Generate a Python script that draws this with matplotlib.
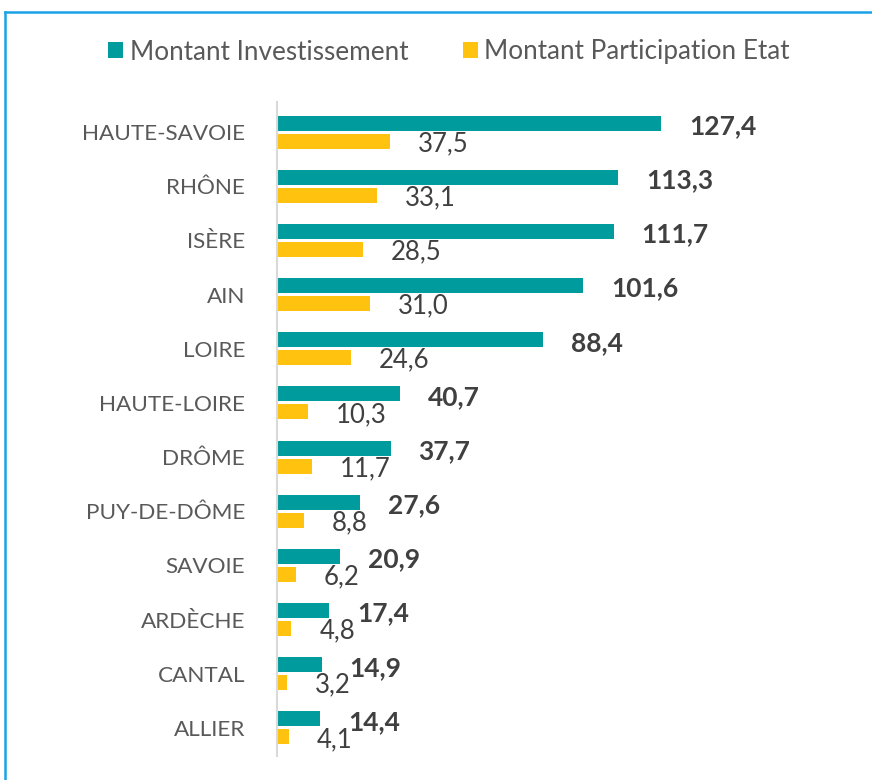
import matplotlib
matplotlib.use("Agg")
import matplotlib.pyplot as plt
from matplotlib.lines import Line2D
import numpy as np

categories = ["HAUTE-SAVOIE", "RHÔNE", "ISÈRE", "AIN", "LOIRE", "HAUTE-LOIRE",
              "DRÔME", "PUY-DE-DÔME", "SAVOIE", "ARDÈCHE", "CANTAL", "ALLIER"]
investissement = [127.4, 113.3, 111.7, 101.6, 88.4, 40.7, 37.7, 27.6, 20.9, 17.4, 14.9, 14.4]
participation = [37.5, 33.1, 28.5, 31.0, 24.6, 10.3, 11.7, 8.8, 6.2, 4.8, 3.2, 4.1]
series_names = ["Montant Investissement", "Montant Participation Etat"]

TEAL = "#009B9C"
YELLOW = "#FFC20E"
TXT = "#404040"
CAT = "#595959"

plt.rcParams['font.family'] = ['Lato', 'DejaVu Sans']

W, H = 872, 780
fig = plt.figure(figsize=(W / 100, H / 100), dpi=100)
fig.patch.set_facecolor("white")

# border (left and top visible)
fig.add_artist(Line2D([4.5 / W, 4.5 / W], [0, 1 - 11.5 / H], transform=fig.transFigure,
                      color="#1AA3E6", lw=1.8))
fig.add_artist(Line2D([4.5 / W, 1.0], [1 - 11.5 / H, 1 - 11.5 / H], transform=fig.transFigure,
                      color="#1AA3E6", lw=1.8))

ax_left = 277 / W
ax_right = 866 / W
ax_top = 1 - 102 / H
ax_bottom = 1 - 756 / H
ax = fig.add_axes([ax_left, ax_bottom, ax_right - ax_left, ax_top - ax_bottom])

y = np.arange(len(categories))
bh = 0.277
off = 0.166
ax.barh(y - off, investissement, height=bh, color=TEAL, label=series_names[0])
ax.barh(y + off, participation, height=bh, color=YELLOW, label=series_names[1])

px_per_unit = 3.014
ax.set_xlim(0, (866 - 277) / px_per_unit)
ax.set_ylim(len(categories) - 1 + 0.52, -0.555)

for yi, v in zip(y, investissement):
    ax.annotate(f"{v:.1f}".replace(".", ","), (v, yi - off), xytext=(20, -2.2),
                textcoords="offset points", ha="left", va="center",
                fontsize=19, fontweight="bold", color=TXT)
for yi, v in zip(y, participation):
    ax.annotate(f"{v:.1f}".replace(".", ","), (v, yi + off), xytext=(20, -1.8),
                textcoords="offset points", ha="left", va="center",
                fontsize=18.5, color=TXT)

ax.set_yticks(y)
ax.set_yticklabels(categories, fontsize=16.2, color=CAT)
ax.tick_params(axis="y", length=0, pad=23)
ax.set_xticks([])
for s in ["top", "right", "bottom"]:
    ax.spines[s].set_visible(False)
ax.spines["left"].set_color("#D9D9D9")
ax.spines["left"].set_linewidth(1.5)

leg = fig.legend(loc="center", bbox_to_anchor=(449 / W, 1 - 52 / H), ncol=2,
                 frameon=False, fontsize=18.8, handlelength=0.57, handleheight=0.57,
                 handletextpad=0.25, columnspacing=2.1, labelcolor=CAT)

fig.savefig("out.png", dpi=100, facecolor="white")
